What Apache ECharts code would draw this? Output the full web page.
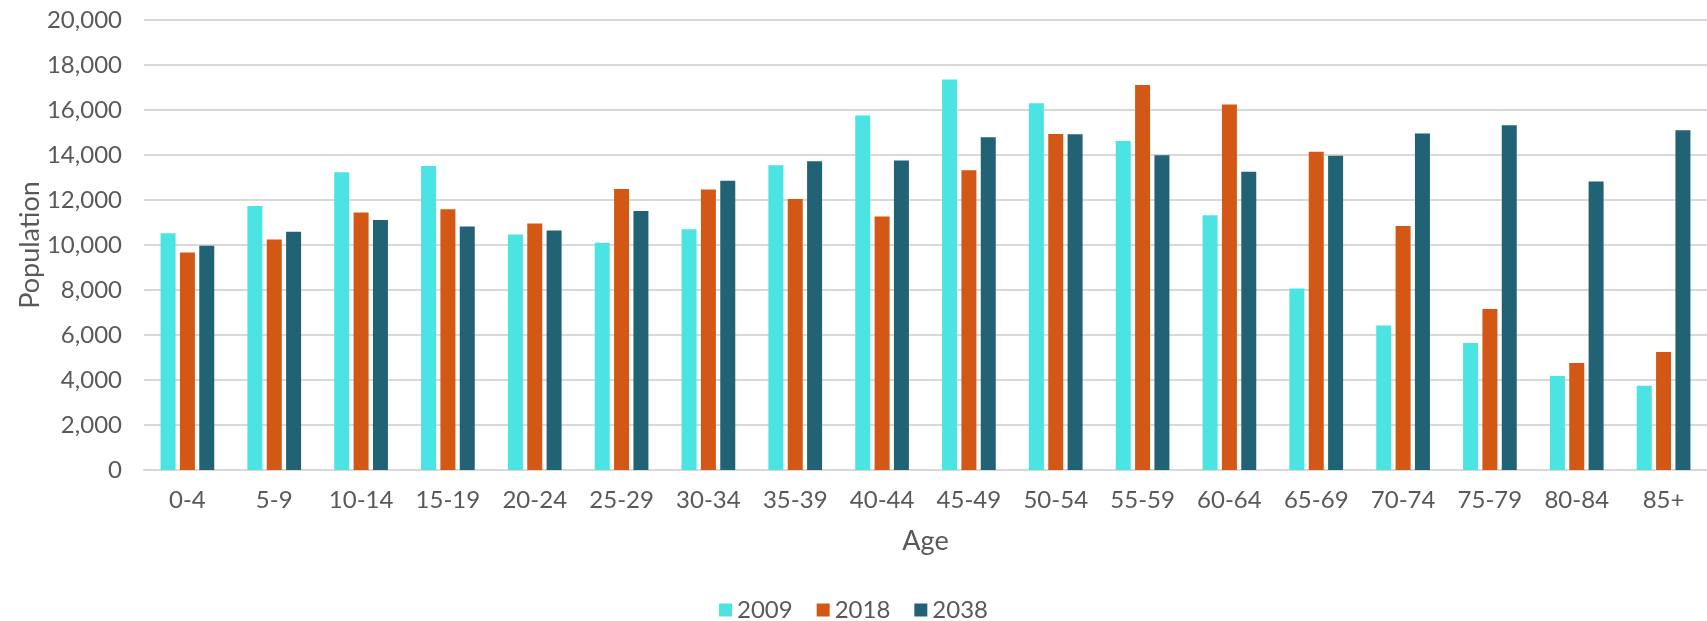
<!DOCTYPE html>
<html>
<head>
<meta charset="utf-8">
<script src="https://cdn.jsdelivr.net/npm/echarts@6/dist/echarts.min.js"></script>
<style>
  html, body { margin: 0; padding: 0; background: #fff; }
  #chart { width: 1707px; height: 621px; }
</style>
</head>
<body>
<div id="chart"></div>
<script>
const ages = ["0-4", "5-9", "10-14", "15-19", "20-24", "25-29", "30-34", "35-39", "40-44",
  "45-49", "50-54", "55-59", "60-64", "65-69", "70-74", "75-79", "80-84", "85+"]
const years = ["2009", "2018", "2038"]
const pop2009 = [10520, 11730, 13230, 13510, 10470, 10100, 10700, 13540, 15760,
  17360, 16300, 14620, 11320, 8070, 6420, 5640, 4180, 3750]
const pop2018 = [9670, 10250, 11440, 11590, 10960, 12490, 12470, 12040, 11270,
  13320, 14930, 17110, 16250, 14150, 10840, 7160, 4760, 5240]
const pop2038 = [9970, 10590, 11110, 10820, 10650, 11510, 12860, 13720, 13760,
  14790, 14920, 13990, 13260, 13970, 14960, 15320, 12820, 15100]

const colors = ["#4ce4e3", "#d35815", "#216274"]
const font = "Lato, 'Open Sans', sans-serif"
const textColor = "#595959"

const chart = echarts.init(document.getElementById("chart"), null, { renderer: "canvas" })

chart.setOption({
  animation: false,
  color: colors,
  textStyle: { fontFamily: font },
  grid: { left: 144, right: 0, top: 20, bottom: 151, containLabel: false },
  legend: {
    data: years,
    top: 598,
    left: "center",
    padding: 0,
    itemWidth: 13,
    itemHeight: 13,
    itemGap: 24,
    icon: "rect",
    textStyle: { color: textColor, fontSize: 24, fontFamily: font }
  },
  xAxis: {
    type: "category",
    data: ages,
    name: "Age",
    nameLocation: "middle",
    nameGap: 58,
    nameTextStyle: { color: textColor, fontSize: 27, fontFamily: font },
    axisTick: { show: false },
    axisLine: { lineStyle: { color: "#d9d9d9", width: 2 } },
    axisLabel: { color: textColor, fontSize: 24, fontFamily: font, margin: 18 }
  },
  yAxis: {
    type: "value",
    min: 0,
    max: 20000,
    interval: 2000,
    name: "Population",
    nameLocation: "middle",
    nameGap: 100,
    nameMoveOverlap: false,
    nameTextStyle: { color: textColor, fontSize: 27, fontFamily: font },
    axisLine: { show: false },
    axisTick: { show: false },
    splitLine: { lineStyle: { color: "#d9d9d9", width: 2 } },
    axisLabel: {
      color: textColor,
      fontSize: 24,
      fontFamily: font,
      margin: 22,
      formatter: (v) => v.toLocaleString("en-US")
    }
  },
  series: [
    { name: "2009", type: "bar", data: pop2009, barWidth: 15, barGap: "29%" },
    { name: "2018", type: "bar", data: pop2018, barWidth: 15, barGap: "29%" },
    { name: "2038", type: "bar", data: pop2038, barWidth: 15, barGap: "29%" }
  ]
})
</script>
</body>
</html>
